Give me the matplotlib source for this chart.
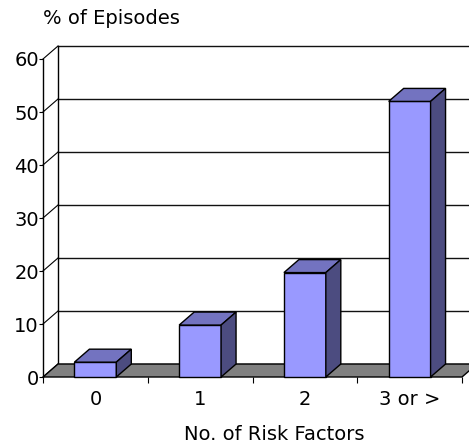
import matplotlib
matplotlib.use('Agg')
import matplotlib.pyplot as plt
from matplotlib.patches import Polygon

categories = ['0', '1', '2', '3 or >']
episodes_pct = [2.8, 9.8, 19.7, 52.0]
y_ticks = [0, 10, 20, 30, 40, 50, 60]

front_col = '#9999FF'
top_col = '#7373C0'
side_col = '#4C4C80'
floor_col = '#808080'

# depth of the 3d box, in data units (x: categories, y: percent)
ddx = 0.143
ddy = 2.45
bar_w = 0.4

fig = plt.figure(figsize=(4.69, 4.48), dpi=100)
ax = fig.add_axes([43/469, 71/448, 419/469, 318/448])
ax.set_xlim(0, 4)
ax.set_ylim(0, 60)
ax.patch.set_visible(False)
for s in ['top', 'right', 'bottom']:
    ax.spines[s].set_visible(False)
ax.spines['left'].set_linewidth(1.0)

def poly(pts, fc, z, lw=1.0):
    ax.add_patch(Polygon(pts, closed=True, facecolor=fc, edgecolor='black',
                         linewidth=lw, zorder=z, clip_on=False))

# back wall + side wall lines
for t in y_ticks:
    ax.plot([ddx, 4 + ddx], [t + ddy, t + ddy], color='#111111', lw=1.0,
            clip_on=False, zorder=1)
    ax.plot([0, ddx], [t, t + ddy], color='black', lw=0.8,
            clip_on=False, zorder=1)
ax.plot([ddx, ddx], [ddy, 60 + ddy], color='black', lw=1.0, clip_on=False, zorder=1)

# floor
poly([(0, 0), (4, 0), (4 + ddx, ddy), (ddx, ddy)], floor_col, 2)

# bars
for i, v in enumerate(episodes_pct):
    x0 = i + 0.3
    x1 = x0 + bar_w
    poly([(x0, 0), (x1, 0), (x1, v), (x0, v)], front_col, 3)
    poly([(x0, v), (x1, v), (x1 + ddx, v + ddy), (x0 + ddx, v + ddy)], top_col, 3)
    poly([(x1, 0), (x1 + ddx, ddy), (x1 + ddx, v + ddy), (x1, v)], side_col, 3)

ax.set_yticks(y_ticks)
ax.tick_params(axis='y', length=3, width=0.8, pad=0, labelsize=14)
ax.set_xticks([0, 1, 2, 3, 4])
ax.set_xticklabels([])
ax.set_xticks([i + 0.5 for i in range(len(categories))], minor=True)
ax.set_xticklabels(categories, minor=True, fontsize=14)
ax.tick_params(axis='x', which='major', length=4.5, width=0.8, direction='out')
ax.tick_params(axis='x', which='minor', length=0, pad=9)

ax.set_xlabel('No. of Risk Factors', fontsize=14)
ax.xaxis.set_label_coords(0.551, -0.152)
fig.text(43/469, 1 - 19/448, '% of Episodes', fontsize=14, ha='left', va='center')

fig.savefig('out.png', dpi=100)
